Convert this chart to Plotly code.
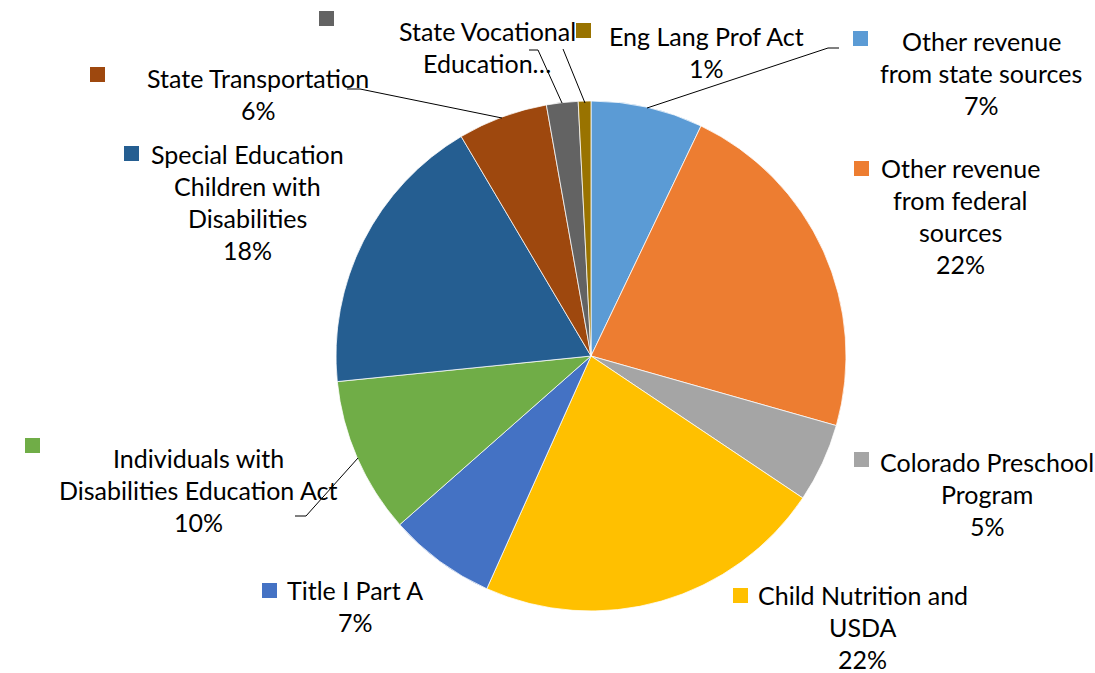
import plotly.graph_objects as go

W, H = 1095, 673

categories = [
    "Other revenue from state sources",
    "Other revenue from federal sources",
    "Colorado Preschool Program",
    "Child Nutrition and USDA",
    "Title I Part A",
    "Individuals with Disabilities Education Act",
    "Special Education Children with Disabilities",
    "State Transportation",
    "State Vocational Education",
    "Eng Lang Prof Act",
]
values = [7.1, 22.3, 5.0, 22.3, 6.8, 9.9, 18.1, 5.7, 2.0, 0.8]
colors = ["#5B9BD5", "#ED7D31", "#A5A5A5", "#FFC000", "#4472C4",
          "#70AD47", "#255E91", "#9E480E", "#636363", "#997300"]

# label lines as displayed (wrapped), percentage appended where shown
label_lines = [
    ["Other revenue", "from state sources"],
    ["Other revenue", "from federal", "sources"],
    ["Colorado Preschool", "Program"],
    ["Child Nutrition and", "USDA"],
    ["Title I Part A"],
    ["Individuals with", "Disabilities Education Act"],
    ["Special Education", "Children with", "Disabilities"],
    ["State Transportation"],
    ["State Vocational", "Education…"],
    ["Eng Lang Prof Act"],
]
show_pct = [True, True, True, True, True, True, True, True, False, True]

# layout: label centre x, first line y, legend-key square top-left (pixels)
label_pos = [
    (981, 41, 853, 31),
    (960, 168, 854, 161),
    (987, 462, 854, 452),
    (863, 595, 733, 588),
    (355, 590, 262, 583),
    (198, 458, 25, 438),
    (247, 154, 124, 146),
    (258, 78, 90, 67),
    (487, 31, 319, 11),
    (706, 36, 576, 23),
]
leaders = [
    [(647, 108), (828, 48), (839, 48)],
    None, None, None, None,
    [(358, 458), (306, 516), (295, 516)],
    None,
    [(502, 118), (360, 89), (347, 89)],
    [(562, 103), (538, 50), (529, 50)],
    [(585, 103), (563, 49)],
]

LINE_H = 32
FONT = dict(family="Lato, 'Open Sans', sans-serif", size=25, color="#000000")


def px(x):
    return x / W


def py(y):
    return 1 - y / H


total = sum(values)
cx, cy, r = 591, 356, 255

fig = go.Figure(go.Pie(
    labels=categories, values=values, sort=False, direction="clockwise",
    rotation=0, textinfo="none", hoverinfo="label+percent",
    marker=dict(colors=colors, line=dict(color="#FFFFFF", width=0.75)),
    domain=dict(x=[px(cx - r), px(cx + r)], y=[py(cy + r), py(cy - r)]),
    showlegend=False,
))

annotations = []
shapes = []
for i, lines in enumerate(label_lines):
    lines = list(lines)
    if show_pct[i]:
        lines.append(f"{round(values[i] / total * 100)}%")
    lx, ly, sx, sy = label_pos[i]
    for k, t in enumerate(lines):
        annotations.append(dict(
            x=px(lx), y=py(ly + k * LINE_H), xref="paper", yref="paper",
            text=t, showarrow=False, xanchor="center", yanchor="middle",
            font=FONT))
    shapes.append(dict(type="rect", xref="paper", yref="paper",
                       x0=px(sx), x1=px(sx + 15), y0=py(sy + 15), y1=py(sy),
                       fillcolor=colors[i], line=dict(width=0)))
    if leaders[i]:
        pts = leaders[i]
        path = "M " + " L ".join(f"{px(a)},{py(b)}" for a, b in pts)
        shapes.append(dict(type="path", xref="paper", yref="paper", path=path,
                           line=dict(color="#000000", width=1)))

fig.update_layout(
    width=W, height=H, margin=dict(l=0, r=0, t=0, b=0),
    paper_bgcolor="#FFFFFF", plot_bgcolor="#FFFFFF",
    annotations=annotations, shapes=shapes,
)

fig.write_html("out.html", config={"displayModeBar": False},
               post_script="document.body.style.margin='0';"
                           "document.body.style.overflow='hidden';")
